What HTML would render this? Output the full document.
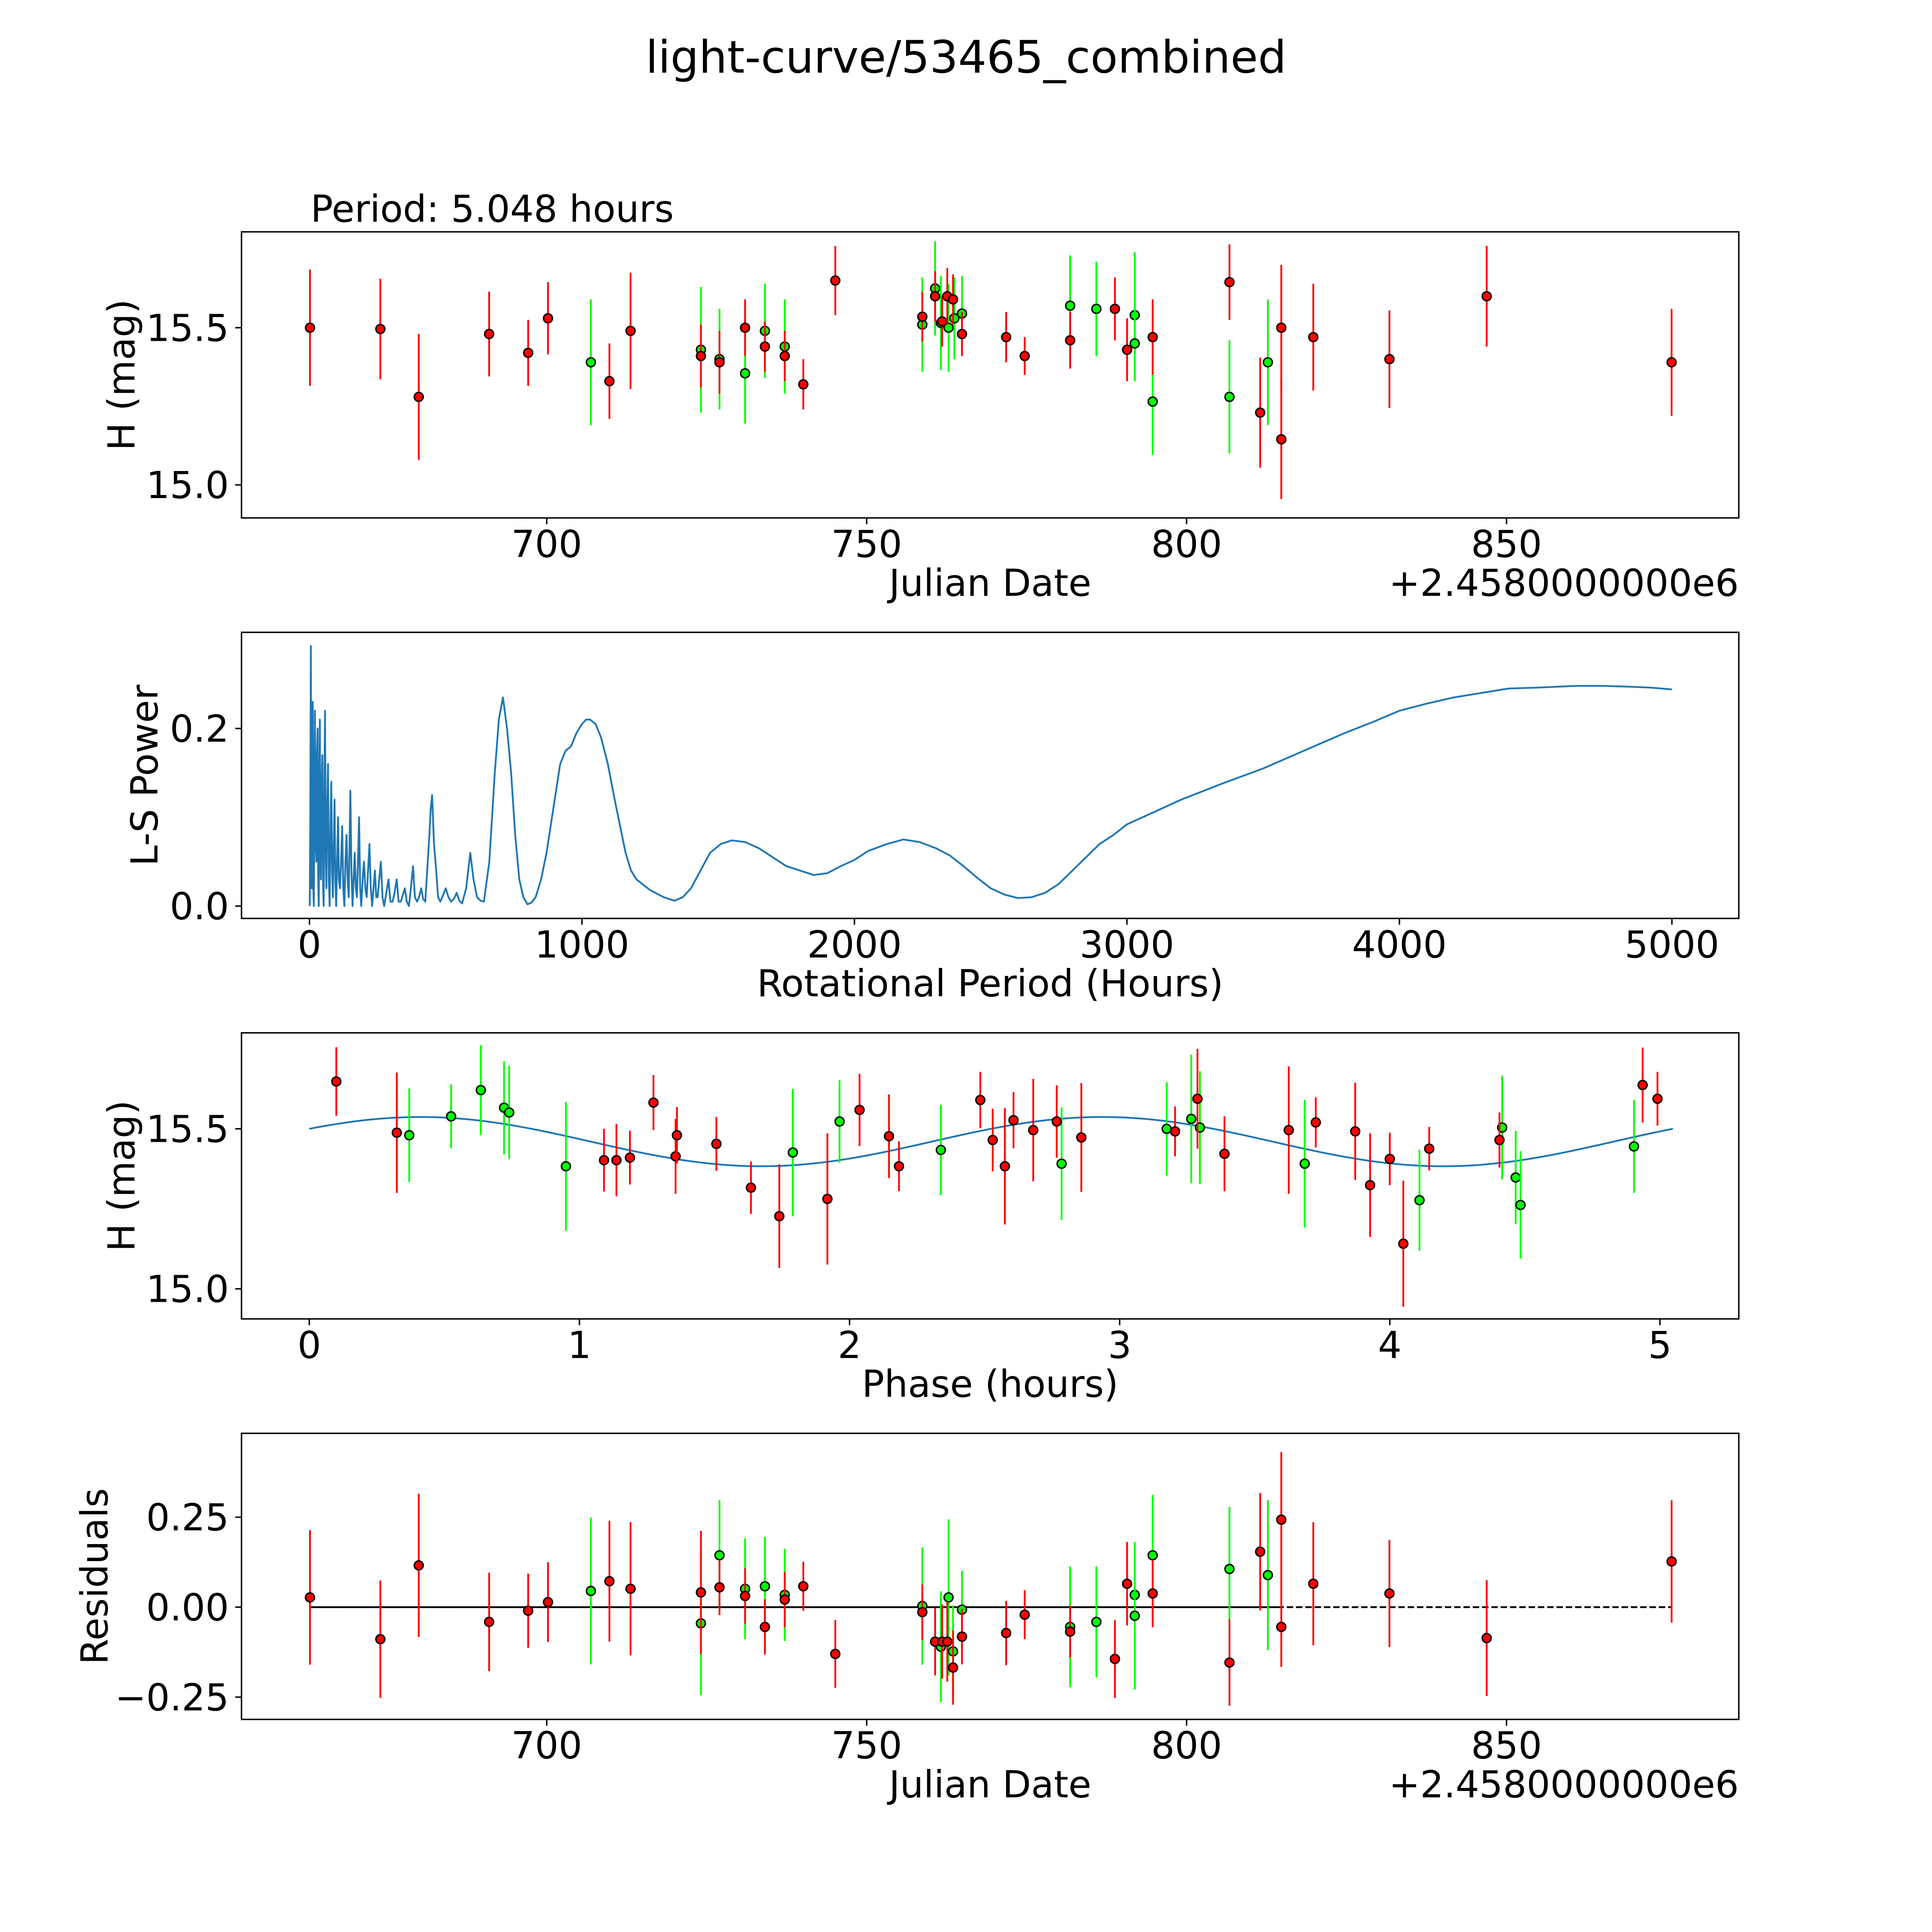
<!DOCTYPE html>
<html><head><meta charset="utf-8"><style>
html,body{margin:0;padding:0;background:#fff;width:100%;height:100%;overflow:hidden;}
svg{display:block;width:100vw;height:100vh;font-family:"DejaVu Sans","Liberation Sans",sans-serif;}
</style></head><body>
<svg id="fig" viewBox="0 0 5400 5400" preserveAspectRatio="none" xmlns="http://www.w3.org/2000/svg">
<rect width="5400" height="5400" fill="#fff"/>
<text x="2700" y="203" font-size="125" text-anchor="middle">light-curve/53465_combined</text>
<text x="868" y="620" font-size="104">Period: 5.048 hours</text>
</svg>
<script>
// ---- data: light curve (Julian date offset, H mag, error) ----
const redJD   = [663.0,674.0,680.0,691.0,697.1,700.2,709.8,713.1,724.1,727.0,731.0,734.1,737.2,740.1,745.1,758.7,760.7,761.8,762.6,763.5,764.9,771.8,774.7,781.8,788.8,790.7,794.7,806.7,811.5,814.8,814.8,819.8,831.7,846.9,875.8];
const redMag  = [15.50,15.496,15.28,15.48,15.42,15.53,15.33,15.49,15.41,15.39,15.50,15.44,15.41,15.32,15.65,15.535,15.60,15.52,15.60,15.59,15.48,15.47,15.41,15.46,15.56,15.43,15.47,15.645,15.23,15.50,15.145,15.47,15.40,15.60,15.39];
const redErr  = [0.185,0.16,0.2,0.135,0.105,0.115,0.12,0.185,0.1,0.1,0.09,0.08,0.08,0.08,0.11,0.08,0.08,0.08,0.09,0.08,0.07,0.08,0.06,0.09,0.1,0.1,0.12,0.12,0.175,0.2,0.19,0.17,0.155,0.16,0.17];
const greenJD  = [706.9,724.1,727.0,731.0,734.1,737.2,758.7,760.7,761.6,762.8,763.7,764.9,781.8,785.9,791.9,791.9,794.7,806.7,812.7];
const greenMag = [15.39,15.43,15.40,15.355,15.49,15.44,15.51,15.625,15.515,15.50,15.53,15.545,15.57,15.56,15.54,15.45,15.265,15.28,15.39];
const greenErr = [0.2,0.2,0.16,0.16,0.15,0.15,0.15,0.15,0.15,0.14,0.13,0.12,0.16,0.15,0.2,0.12,0.17,0.18,0.2];
// ---- periodogram (period hours, power) ----
const lsPeriod = [1,3,5,7,8,10,12,14,16,18,20,22,25,27,30,32,34,36,38,40,42,45,47,50,52,55,57,60,62,65,68,71,74,77,80,83,86,89,92,95,98,102,105,108,112,116,120,124,128,132,136,140,144,147,150,154,158,162,166,170,174,178,182,186,190,195,200,205,210,215,220,225,230,235,240,245,250,256,262,268,274,282,290,297,305,312,320,327,335,342,350,357,365,372,380,387,395,402,410,417,425,432,440,445,450,457,465,472,480,490,500,510,520,530,540,550,560,575,590,602,615,628,640,660,680,695,710,725,740,755,770,785,800,815,830,850,870,895,920,940,960,980,1000,1015,1030,1050,1070,1095,1120,1140,1160,1180,1200,1250,1300,1320,1340,1370,1400,1435,1470,1510,1550,1600,1650,1700,1750,1800,1850,1900,1950,2000,2050,2120,2180,2240,2300,2350,2400,2450,2500,2550,2600,2650,2700,2750,2800,2850,2900,2950,3000,3100,3200,3350,3500,3650,3800,3900,4000,4100,4200,4300,4400,4500,4650,4750,4850,4925,5000];
const lsPower  = [0.0,0.1,0.293,0.05,0.02,0.15,0.23,0.02,0.0,0.12,0.22,0.08,0.05,0.17,0.2,0.03,0.0,0.1,0.21,0.06,0.03,0.14,0.17,0.02,0.0,0.15,0.22,0.05,0.02,0.11,0.16,0.03,0.0,0.09,0.14,0.04,0.01,0.07,0.12,0.03,0.0,0.06,0.1,0.03,0.02,0.05,0.09,0.02,0.0,0.05,0.08,0.03,0.01,0.07,0.13,0.04,0.0,0.03,0.06,0.02,0.01,0.05,0.1,0.02,0.0,0.03,0.05,0.02,0.01,0.04,0.07,0.02,0.0,0.02,0.04,0.01,0.01,0.03,0.05,0.01,0.0,0.015,0.03,0.005,0.005,0.015,0.03,0.005,0.005,0.012,0.02,0.005,0.0,0.02,0.045,0.01,0.005,0.01,0.02,0.008,0.005,0.04,0.08,0.11,0.125,0.07,0.04,0.01,0.005,0.012,0.02,0.01,0.005,0.008,0.015,0.006,0.003,0.02,0.06,0.03,0.01,0.006,0.005,0.05,0.15,0.21,0.235,0.2,0.15,0.08,0.03,0.01,0.002,0.004,0.01,0.03,0.06,0.11,0.16,0.175,0.18,0.195,0.205,0.21,0.21,0.205,0.19,0.16,0.12,0.09,0.06,0.04,0.03,0.018,0.01,0.008,0.006,0.01,0.02,0.04,0.06,0.07,0.074,0.072,0.065,0.055,0.045,0.04,0.035,0.037,0.045,0.052,0.062,0.07,0.075,0.072,0.065,0.057,0.045,0.032,0.02,0.013,0.009,0.01,0.015,0.025,0.04,0.055,0.07,0.08,0.092,0.106,0.12,0.138,0.155,0.175,0.195,0.207,0.22,0.228,0.235,0.24,0.245,0.246,0.248,0.248,0.247,0.246,0.244];
// ---- phased ----
const redPhase = [0.100,0.324,1.274,1.091,1.137,1.187,1.356,1.361,1.507,1.635,1.740,1.918,2.037,2.146,2.183,2.484,2.530,2.575,2.607,2.680,2.767,2.858,3.205,3.288,3.388,3.626,3.726,3.872,3.927,4.0,4.050,4.146,4.406,4.936,4.991];
const redPhMag = [15.648,15.488,15.582,15.402,15.402,15.410,15.414,15.480,15.453,15.316,15.227,15.281,15.559,15.477,15.383,15.590,15.465,15.383,15.527,15.496,15.523,15.473,15.492,15.594,15.422,15.496,15.520,15.492,15.324,15.406,15.141,15.438,15.465,15.637,15.594];
const redPhErr = [0.107,0.188,0.086,0.098,0.113,0.084,0.117,0.088,0.084,0.082,0.162,0.205,0.113,0.131,0.078,0.088,0.098,0.182,0.088,0.160,0.113,0.170,0.078,0.156,0.117,0.199,0.078,0.152,0.162,0.082,0.197,0.068,0.086,0.117,0.084];
const greenPhase = [0.370,0.525,0.635,0.721,0.740,0.950,1.790,1.963,2.338,2.785,3.174,3.265,3.297,3.685,4.110,4.416,4.466,4.484,4.904];
const greenPhMag = [15.480,15.539,15.621,15.566,15.551,15.383,15.426,15.523,15.434,15.391,15.5,15.531,15.504,15.391,15.277,15.504,15.348,15.262,15.445];
const greenPhErr = [0.146,0.1,0.141,0.146,0.146,0.201,0.199,0.129,0.141,0.176,0.146,0.201,0.176,0.199,0.158,0.162,0.146,0.168,0.145];
const modelParams = [15.46,0.077,0.547,5.048]; // mean, amplitude, phase offset, period
// ---- residuals ----
const redRes = [0.027,-0.089,0.116,-0.041,-0.010,0.014,0.072,0.051,0.041,0.055,0.031,-0.055,0.021,0.058,-0.130,-0.014,-0.096,-0.096,-0.096,-0.168,-0.082,-0.072,-0.021,-0.068,-0.144,0.065,0.038,-0.154,0.154,0.243,-0.055,0.065,0.038,-0.086,0.127];
const redResErr = [0.187,0.163,0.199,0.137,0.103,0.111,0.168,0.185,0.171,0.077,0.077,0.077,0.077,0.068,0.094,0.077,0.094,0.103,0.111,0.103,0.077,0.089,0.068,0.072,0.108,0.116,0.094,0.120,0.163,0.188,0.111,0.171,0.149,0.161,0.170];
const greenResJD = [706.9,724.1,727.0,731.0,734.1,737.2,758.7,761.6,762.8,763.5,764.9,781.8,785.9,791.9,791.9,794.7,806.7,812.7];
const greenRes = [0.045,-0.045,0.144,0.051,0.058,0.034,0.003,-0.110,0.027,-0.123,-0.007,-0.055,-0.041,0.034,-0.024,0.144,0.106,0.089];
const greenResErr = [0.204,0.2,0.154,0.14,0.137,0.128,0.163,0.154,0.217,0.128,0.108,0.168,0.154,0.146,0.205,0.168,0.173,0.209];
const xTicksJD = [700,750,800,850];
const xTicksLS = [0,1000,2000,3000,4000,5000];
const xTicksPh = [0,1,2,3,4,5];
const yTicksMag = [15.0,15.5];
const yTicksLS = [0.0,0.2];
const yTicksRes = [-0.25,0.0,0.25];

const NS="http://www.w3.org/2000/svg";
const svg=document.getElementById('fig');
function mk(tag,attrs,parent){const e=document.createElementNS(NS,tag);for(const k in attrs)e.setAttribute(k,attrs[k]);(parent||svg).appendChild(e);return e;}
const L=675,R=4860,H=799.6,FS=104;
function axes(i,xd,yd){const top=648+i*1119.4;return {top,bot:top+H,
  sx:v=>L+(v-xd[0])/(xd[1]-xd[0])*(R-L), sy:v=>top+H-(v-yd[0])/(yd[1]-yd[0])*H};}
function fmt(v,d){let s=v.toFixed(d);return v<0?'\u2212'+s.slice(1):s;}
function drawAxes(ax,name,xt,xd,yt,yd,xlabel,ylabel,ylx,offset){
  const g=mk('g',{});
  
  
  xt.forEach(v=>{const x=ax.sx(v);
    const t=mk('line',{x1:x,x2:x,y1:ax.bot,y2:ax.bot+17.5,stroke:'#000','stroke-width':4},g);
    
    const tx=mk('text',{x:x,y:ax.bot+109,'font-size':FS,'text-anchor':'middle'},g);
    
    tx.textContent=fmt(v,xd);});
  yt.forEach(v=>{const y=ax.sy(v);
    const t=mk('line',{x1:L-17.5,x2:L,y1:y,y2:y,stroke:'#000','stroke-width':4},g);
    
    const tx=mk('text',{x:640,y:y+37,'font-size':FS,'text-anchor':'end'},g);
    
    tx.textContent=fmt(v,yd);});
  const xl=mk('text',{x:(L+R)/2,y:ax.bot+218,'font-size':FS,'text-anchor':'middle'},g);
  
  xl.textContent=xlabel;
  const cy=(ax.top+ax.bot)/2;
  const yl=mk('text',{x:ylx,y:cy,'font-size':FS,'text-anchor':'middle',transform:`rotate(-90 ${ylx} ${cy})`},g);
  
  yl.textContent=ylabel;
  if(offset){const o=mk('text',{x:R,y:ax.bot+218,'font-size':FS,'text-anchor':'end'},g);
    
    o.textContent=offset;}
  return g;}
function frame(ax){const r=mk('rect',{x:L,y:ax.top,width:R-L,height:H,fill:'none',stroke:'#000','stroke-width':4});
  }
function errSeries(ax,xs,ys,es,col,name){
  const g=mk('g',{});
  
  
  xs.forEach((x,i)=>{const px=ax.sx(x);
    const b=mk('line',{x1:px,x2:px,y1:ax.sy(ys[i]-es[i]),y2:ax.sy(ys[i]+es[i]),stroke:col,'stroke-width':5},g);
    
    const c=mk('circle',{cx:px,cy:ax.sy(ys[i]),r:12.5,fill:col,stroke:'#000','stroke-width':4},g);
    });}

// Panel 1
const a1=axes(0,[652.3,886.3],[14.895,15.805]);
drawAxes(a1,'light-curve',xTicksJD,0,yTicksMag,1,'Julian Date','H (mag)',376,'+2.4580000000e6');
errSeries(a1,greenJD,greenMag,greenErr,'#00ff00','green-series');
errSeries(a1,redJD,redMag,redErr,'#ff0000','red-series');
frame(a1);
// Panel 2
const a2=axes(1,[-249.5,5245.5],[-0.0139,0.3083]);
drawAxes(a2,'periodogram',xTicksLS,0,yTicksLS,1,'Rotational Period (Hours)','L-S Power',440,null);
const lp=mk('polyline',{points:lsPeriod.map((p,i)=>a2.sx(p)+','+a2.sy(lsPower[i])).join(' '),fill:'none',stroke:'#1f77b4','stroke-width':5,'stroke-linejoin':'round'});


frame(a2);
// Panel 3
const a3=axes(2,[-0.251,5.292],[14.906,15.80]);
drawAxes(a3,'phase',xTicksPh,0,yTicksMag,1,'Phase (hours)','H (mag)',376,null);
const mpts=[];for(let k=0;k<=200;k++){const ph=modelParams[3]*k/200;
  mpts.push(a3.sx(ph)+','+a3.sy(modelParams[0]+modelParams[1]*Math.sin(4*Math.PI*ph/modelParams[3]+modelParams[2])));}
const mc=mk('polyline',{points:mpts.join(' '),fill:'none',stroke:'#1f77b4','stroke-width':5});


errSeries(a3,greenPhase,greenPhMag,greenPhErr,'#00ff00','green-phase-series');
errSeries(a3,redPhase,redPhMag,redPhErr,'#ff0000','red-phase-series');
frame(a3);
// Panel 4
const a4=axes(3,[652.3,886.3],[-0.312,0.483]);
drawAxes(a4,'residuals',xTicksJD,0,yTicksRes,2,'Julian Date','Residuals',300,'+2.4580000000e6');
const zs=mk('line',{x1:a4.sx(redJD[0]),x2:a4.sx(814.5),y1:a4.sy(0),y2:a4.sy(0),stroke:'#000','stroke-width':5});


const zd=mk('line',{x1:a4.sx(redJD[0]),x2:a4.sx(redJD[redJD.length-1]),y1:a4.sy(0),y2:a4.sy(0),stroke:'#000','stroke-width':5,'stroke-dasharray':'18 8'});


errSeries(a4,greenResJD,greenRes,greenResErr,'#00ff00','green-residual-series');
errSeries(a4,redJD,redRes,redResErr,'#ff0000','red-residual-series');
frame(a4);
</script>
</body></html>
